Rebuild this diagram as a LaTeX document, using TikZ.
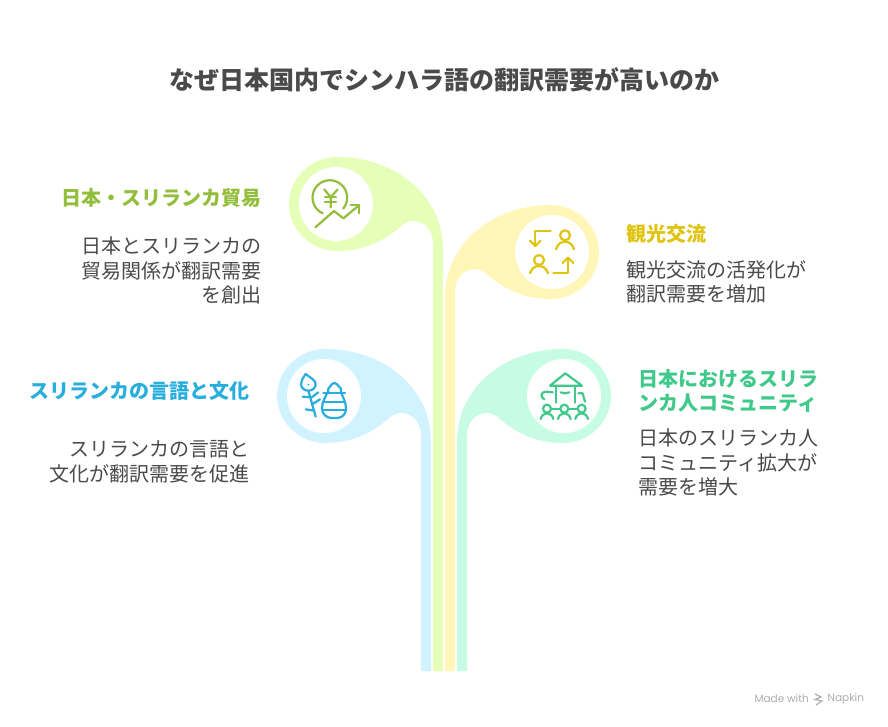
\documentclass[tikz,border=0pt]{standalone}
\usepackage{fontspec}
\setmainfont{Noto Sans CJK JP}
\newfontfamily\madefont{Poppins}
\definecolor{leafgreen}{HTML}{E6FFB8}
\definecolor{leafyellow}{HTML}{FFF6B8}
\definecolor{leafblue}{HTML}{D1F3FF}
\definecolor{leafmint}{HTML}{C7FCE4}
\definecolor{inkgreen}{HTML}{93BE3C}
\definecolor{inkyellow}{HTML}{E0C410}
\definecolor{inkblue}{HTML}{27AEDD}
\definecolor{inkmint}{HTML}{40C98A}
\definecolor{bodygray}{HTML}{4A4A4A}
\newcommand{\leafshape}[4]{
	\begin{scope}[shift={(#2,#3)},xscale=#4]
		\fill[#1] (107,{671-#3}) -- (107,46) .. controls (107,-9) and (59,-47) .. (1,-47)
		.. controls (-25,-47) and (-47,-26) .. (-47,0)
		.. controls (-47,26) and (-25,47) .. (1,47)
		.. controls (29,47) and (49,36) .. (64,23)
		.. controls (68,19) and (73,17) .. (77,17)
		.. controls (89,17) and (97,27) .. (97,39) -- (97,{671-#3}) -- cycle;
		\fill[white] (0,0) circle (37);
	\end{scope}
}
\begin{document}
\begin{tikzpicture}[x=1pt,y=-1pt,
		title node/.style={font=\fontsize{25}{30}\selectfont\bfseries,text=bodygray,inner sep=0pt},
		head node/.style={font=\fontsize{20}{24.5}\selectfont\bfseries,inner sep=0pt},
		body node/.style={font=\fontsize{20}{24.5}\selectfont,text=bodygray,inner sep=0pt},
		icon line/.style={line width=2.2pt,line cap=round,line join=round}]
		
		\useasboundingbox (0,0) rectangle (888,726);
		\fill[white] (0,0) rectangle (888,726);
		
		\leafshape{leafblue}{324}{396}{1}
		\leafshape{leafgreen}{336}{204}{1}
		\leafshape{leafyellow}{552}{252}{-1}
		\leafshape{leafmint}{564}{396}{-1}
		
		\node[title node] (title) at (444.5,80) {なぜ日本国内でシンハラ語の翻訳需要が高いのか};
		
		\node[head node,text=inkgreen,anchor=east] (tradehead) at (262,198) {日本・スリランカ貿易};
		\node[body node,anchor=east,align=right] (tradebody) at (262,270.5) {日本とスリランカの\\貿易関係が翻訳需要\\を創出};
		
		\node[head node,text=inkyellow,anchor=west] (tourhead) at (626,234) {観光交流};
		\node[body node,anchor=west,align=left] (tourbody) at (626,282) {観光交流の活発化が\\翻訳需要を増加};
		
		\node[head node,text=inkblue,anchor=east] (langhead) at (250,390.5) {スリランカの言語と文化};
		\node[body node,anchor=east,align=right] (langbody) at (250,462) {スリランカの言語と\\文化が翻訳需要を促進};
		
		\node[head node,text=inkmint,anchor=west,align=left] (commhead) at (638,391) {日本におけるスリラ\\ンカ人コミュニティ};
		\node[body node,anchor=west,align=left] (commbody) at (638,462.5) {日本のスリランカ人\\コミュニティ拡大が\\需要を増大};
		
		% yen icon
		\begin{scope}[shift={(270,140)},scale=1/3,icon line,inkgreen]
			\draw (158,220) arc[start angle=114.5,end angle=399.6,radius=52];
			\draw (163,148) -- (182,172) -- (203,148) (182,172) -- (182,202);
			\draw (165,172) -- (198,172) (165,185) -- (198,185);
			\draw (136,262) -- (192,213) -- (220,235) -- (268,195);
			\draw (242,195) -- (268,195) -- (268,220);
		\end{scope}
		
		% exchange icon
		\begin{scope}[shift={(430,190)},scale=1/3,icon line,inkyellow]
			\draw (362,122) -- (316,122) -- (316,168);
			\draw (300,152) -- (316,168) -- (332,152);
			\draw (405,136) circle (15);
			\draw (378,178) .. controls (382,162) and (394,155) .. (405,155) .. controls (416,155) and (428,162) .. (432,178);
			\draw (327,210) circle (15);
			\draw (300,250) .. controls (304,235) and (316,228) .. (327,228) .. controls (338,228) and (350,235) .. (354,250);
			\draw (370,248) -- (414,248) -- (414,203);
			\draw (398,219) -- (414,203) -- (430,219);
		\end{scope}
		
		% leaf and jar icon
		\begin{scope}[shift={(265,340)},scale=1/3,icon line,inkblue]
			\draw (122,102) .. controls (114,114) and (108,122) .. (108,132) .. controls (108,144) and (118,152) .. (130,152) .. controls (142,152) and (152,144) .. (152,132) .. controls (152,120) and (134,112) .. (122,102) -- cycle;
			\fill (130,134) circle (3);
			\draw (130,152) -- (152,230);
			\draw (113,170) -- (140,172) -- (160,157);
			\draw (143,192) -- (165,178);
			\draw (122,208) -- (148,212);
			\draw (175,160) -- (240,160);
			\draw (190,160) -- (190,146) .. controls (192,140) and (198,140) .. (200,133) .. controls (204,127) and (212,127) .. (216,133) .. controls (218,140) and (226,140) .. (228,146) -- (228,160);
			\draw (186,160) .. controls (182,170) and (171,185) .. (171,205) .. controls (171,222) and (184,234) .. (200,234) -- (216,234) .. controls (232,234) and (243,222) .. (243,205) .. controls (243,185) and (232,170) .. (230,160);
			\draw (175,186) -- (240,186) (172,210) -- (243,210);
		\end{scope}
		
		% community icon
		\begin{scope}[shift={(450,340)},scale=1/3,icon line,inkmint]
			\draw (300,137) -- (346,100) -- (396,137) -- cycle;
			\draw (318,137) -- (318,188) (376,137) -- (376,188);
			\draw (332,157) .. controls (340,161) and (350,161) .. (358,157);
			\draw (283,178) .. controls (270,172) and (272,155) .. (288,155) -- (308,157);
			\draw (385,160) -- (398,160) -- (405,185);
			\foreach \headx in {291,343,395} {
				\draw (\headx,206) circle (12);
				\draw (\headx-19,237) .. controls (\headx-17,226) and (\headx-8,220) .. (\headx,220) .. controls (\headx+8,220) and (\headx+17,226) .. (\headx+19,237);
			}
			\draw (303,206) -- (331,206) (355,206) -- (383,206);
		\end{scope}
		
		\node[font=\madefont\fontsize{10.5}{13}\selectfont,text=black!32,inner sep=0pt,anchor=east] (madewith) at (809,698.5) {Made with};
		\node[font=\madefont\fontsize{10.5}{13}\selectfont,text=black!32,inner sep=0pt,anchor=west] (napkin) at (827.5,698.5) {Napkin};
		\draw[black!32,line width=1.2pt] (815,694) -- (821,697) -- (815,699.5) -- (822,701) -- (816,705);
\end{tikzpicture}
\end{document}
